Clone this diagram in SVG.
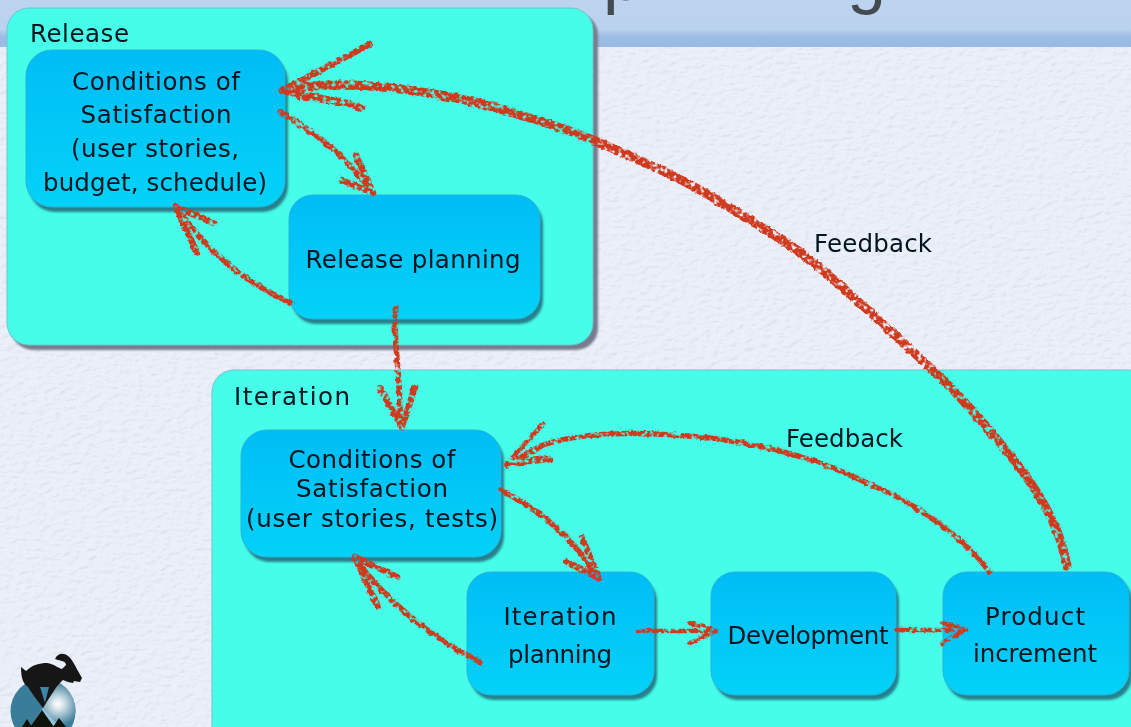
<svg xmlns="http://www.w3.org/2000/svg" width="1131" height="727" viewBox="0 0 1131 727">
<style>
.panel{fill:#45fde8;stroke:#6fc4d0;stroke-width:1}
.panel-sh{fill:#767d8c}
.box{fill:url(#boxFill);stroke:#28b4d8;stroke-width:1}
.box-sh{fill:#27818f}
text{font-family:"DejaVu Sans","Noto Sans",sans-serif;fill:#04131f}
.t{font-size:24.500px;text-anchor:middle}
.l{font-size:24.500px}
.c{fill:none;stroke:#cf3a1e;stroke-linecap:round;stroke-linejoin:round}
.w1{stroke-width:9}
.w2{stroke-width:5.500}
.w3{stroke-width:4.500}
.h{stroke-width:6.500}
.title{font-family:"Liberation Sans",sans-serif;font-size:70px;fill:#454a50}
</style>
<defs>
<linearGradient id="boxFill" x1="0" y1="0" x2="0" y2="1"><stop offset="0" stop-color="#00bdf5"/><stop offset="1" stop-color="#03d2f8"/></linearGradient>
<linearGradient id="band" x1="0" y1="0" x2="0" y2="1"><stop offset="0" stop-color="#bdd4f0"/><stop offset=".62" stop-color="#bad2ee"/><stop offset=".78" stop-color="#9dbde6"/><stop offset="1" stop-color="#98b9e3"/></linearGradient>
<radialGradient id="orb" gradientUnits="userSpaceOnUse" cx="58" cy="704" r="22"><stop offset="0" stop-color="#fff"/><stop offset=".2" stop-color="#e4ecf1"/><stop offset="1" stop-color="#3a7d99"/></radialGradient>
<filter id="paper" x="0" y="0" width="100%" height="100%" color-interpolation-filters="sRGB">
<feTurbulence type="fractalNoise" baseFrequency="0.12 0.22" numOctaves="3" seed="4" result="n"/>
<feDiffuseLighting in="n" surfaceScale="0.28" diffuseConstant="1.130" lighting-color="#fff" result="li"><feDistantLight azimuth="45" elevation="62"/></feDiffuseLighting>
<feBlend in="SourceGraphic" in2="li" mode="multiply"/>
</filter>
<filter id="soft" x="-10%" y="-10%" width="120%" height="120%"><feGaussianBlur stdDeviation="1.300"/></filter>
<filter id="txt" x="-5%" y="-20%" width="110%" height="140%"><feGaussianBlur stdDeviation="0.4"/></filter>
<filter id="chalk" filterUnits="userSpaceOnUse" x="0" y="0" width="1131" height="727" color-interpolation-filters="sRGB">
<feTurbulence type="fractalNoise" baseFrequency="0.22" numOctaves="2" seed="7" result="n"/>
<feDisplacementMap in="SourceGraphic" in2="n" scale="4" xChannelSelector="R" yChannelSelector="G" result="d"/>
<feColorMatrix in="n" type="matrix" values="0 0 0 0 0 0 0 0 0 0 0 0 0 0 0 4.500 0 0 0 -1.250" result="m"/>
<feComposite in="d" in2="m" operator="in" result="sp"/>
<feGaussianBlur in="sp" stdDeviation="0.6"/>
</filter>
</defs>

<g id="background">
<rect width="1131" height="727" fill="#eaeff9" filter="url(#paper)"/>
<rect width="1131" height="47" fill="url(#band)"/>
<text class="title" x="603" y="0">p</text>
<text class="title" x="847" y="0">g</text>
</g>

<g id="release-panel">
<rect class="panel-sh" x="11" y="13" width="587" height="337" rx="22" filter="url(#soft)"/>
<rect class="panel" x="7" y="8" width="586" height="337" rx="22"/>
<text class="l" x="30" y="42" textLength="99" filter="url(#txt)">Release</text>
</g>

<g id="iteration-panel">
<rect class="panel" x="212" y="370" width="940" height="380" rx="22"/>
<text class="l" x="234" y="405" textLength="116" filter="url(#txt)">Iteration</text>
</g>

<g id="release-conditions">
<rect class="box-sh" x="29" y="55" width="259" height="157" rx="26" filter="url(#soft)"/>
<rect class="box" x="26" y="50" width="259" height="157" rx="26"/>
<g filter="url(#txt)">
<text class="t" x="156" y="90" textLength="168">Conditions of</text>
<text class="t" x="156" y="123" textLength="151">Satisfaction</text>
<text class="t" x="155" y="157" textLength="168">(user stories,</text>
<text class="t" x="155" y="191" textLength="224">budget, schedule)</text>
</g>
</g>

<g id="release-planning">
<rect class="box-sh" x="292" y="200" width="251" height="124" rx="24" filter="url(#soft)"/>
<rect class="box" x="289" y="195" width="251" height="124" rx="24"/>
<text class="t" x="413" y="268" textLength="215" filter="url(#txt)">Release planning</text>
</g>

<g id="iteration-conditions">
<rect class="box-sh" x="244" y="435" width="260" height="127" rx="26" filter="url(#soft)"/>
<rect class="box" x="241" y="430" width="260" height="127" rx="26"/>
<g filter="url(#txt)">
<text class="t" x="372" y="468" textLength="167">Conditions of</text>
<text class="t" x="372" y="497" textLength="152">Satisfaction</text>
<text class="t" x="372" y="527" textLength="252">(user stories, tests)</text>
</g>
</g>

<g id="iteration-planning">
<rect class="box-sh" x="470" y="577" width="187" height="123" rx="24" filter="url(#soft)"/>
<rect class="box" x="467" y="572" width="187" height="123" rx="24"/>
<g filter="url(#txt)">
<text class="t" x="560" y="625" textLength="113">Iteration</text>
<text class="t" x="560" y="663" textLength="104">planning</text>
</g>
</g>

<g id="development">
<rect class="box-sh" x="714" y="577" width="185" height="123" rx="24" filter="url(#soft)"/>
<rect class="box" x="711" y="572" width="185" height="123" rx="24"/>
<text class="t" x="808" y="644" textLength="161" filter="url(#txt)">Development</text>
</g>

<g id="product-increment">
<rect class="box-sh" x="946" y="577" width="186" height="123" rx="24" filter="url(#soft)"/>
<rect class="box" x="943" y="572" width="186" height="123" rx="24"/>
<g filter="url(#txt)">
<text class="t" x="1035" y="625" textLength="100">Product</text>
<text class="t" x="1035" y="662" textLength="124">increment</text>
</g>
</g>

<g id="labels" filter="url(#txt)">
<text class="l" x="814" y="252" textLength="118">Feedback</text>
<text class="l" x="786" y="447" textLength="117">Feedback</text>
</g>

<g id="connectors" filter="url(#chalk)">
<path class="c w1" d="M1067 566C1062 540 1056 528 1047 510C1034 485 1018 465 1000 443C985 425 968 405 950 387C925 362 900 340 870 312C850 295 825 270 800 252C770 232 735 210 700 190C668 172 635 158 600 143C575 132 545 122 520 115C495 107 470 100 440 95C390 86 335 80 284 90"/>
<path class="c h" d="M282 91L370 44M284 91C310 96 340 100 362 108M300 97L356 104"/>
<path class="c w2" d="M990 572C960 535 920 505 867 483C820 460 770 445 710 438C650 432 590 430 543 445L507 465"/>
<path class="c w3" d="M507 464L543 424"/>
<path class="c h" d="M510 463L550 459"/>
<path class="c w2" d="M280 112C320 135 350 160 372 192"/>
<path class="c h" d="M373 193L356 155M373 193L342 180"/>
<path class="c w2" d="M292 303C250 285 210 255 178 209"/>
<path class="c h" d="M176 207L214 223M176 207L197 253"/>
<path class="c w2" d="M396 308C392 340 402 380 400 425"/>
<path class="c h" d="M402 427L380 388M402 427L415 387"/>
<path class="c w2" d="M501 490C540 510 575 540 598 578"/>
<path class="c h" d="M599 578L582 538M599 578L567 562"/>
<path class="c w2" d="M480 662C435 640 390 605 355 559"/>
<path class="c h" d="M355 557L397 577M355 557L378 607"/>
<path class="c w3" d="M638 631L714 631M690 623L716 631L690 643"/>
<path class="c w3" d="M897 630L964 630M942 623L966 630L942 643"/>
</g>

<g id="logo">
<circle cx="43" cy="711" r="32.500" fill="#3a7d99"/>
<path d="M43 678.500A32.500 32.500 0 0 1 43 743.500Z" fill="url(#orb)"/>
<path d="M30 727L43 708L60 727Z" fill="#8fc0dc"/>
<path d="M22 727L27 719L32 727ZM30 727L42 710L54 727ZM53 727L59 718L66 727Z" fill="#0f1208"/>
<path d="M21 667L26 671C32 665 40 663 47 663C54 664 58 668 62 669L66 665C66 661 61 661 55 659C57 654 63 652 68 656C73 660 75 666 78 671L82 678L80 682L74 681L73 683L68 682L63 680C56 686 50 697 43 708C37 700 31 692 28 687C24 684 21 680 21 667Z" fill="#161616"/>
<path d="M40 687L49 687L45 703Z" fill="#3c86a8"/>
</g>
</svg>
